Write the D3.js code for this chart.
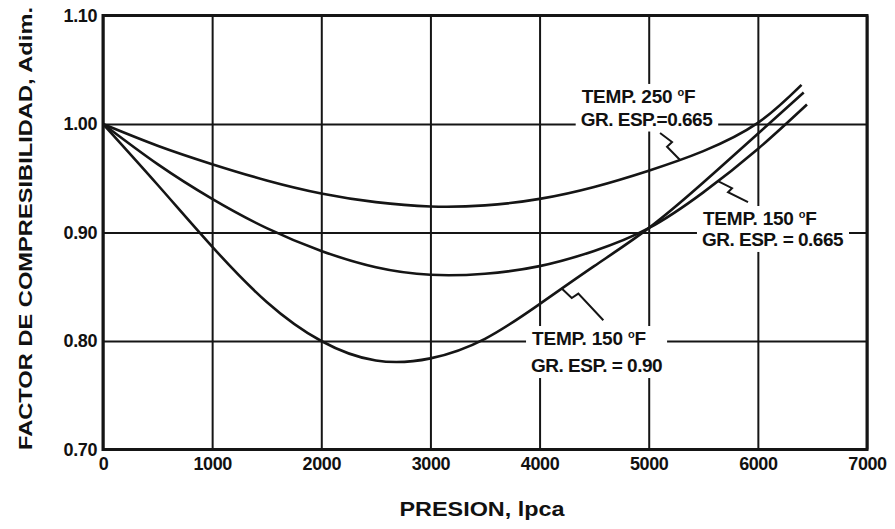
<!DOCTYPE html>
<html>
<head>
<meta charset="utf-8">
<script src="https://cdn.jsdelivr.net/npm/d3@7"></script>
<style>
  html, body { margin: 0; padding: 0; background: #fff; }
  svg { display: block; }
  text { font-family: "Liberation Sans", Arial, sans-serif; font-weight: bold; fill: #111; }
</style>
</head>
<body>
<svg id="chart" width="895" height="529"></svg>
<script>
// Gas compressibility factor vs. pressure
const xTicks = [0, 1000, 2000, 3000, 4000, 5000, 6000, 7000];
const yTicks = [0.70, 0.80, 0.90, 1.00, 1.10];

// TEMP. 250 °F, GR. ESP. = 0.665
const pressure250 = [0, 500, 1000, 1500, 2000, 2500, 3000, 3500, 4000, 4500, 5000, 5500, 6000, 6400];
const z250        = [1.000, 0.980, 0.963, 0.948, 0.936, 0.928, 0.924, 0.925, 0.931, 0.942, 0.957, 0.975, 1.001, 1.036];

// TEMP. 150 °F, GR. ESP. = 0.665
const pressure150a = [0, 500, 1000, 1500, 2000, 2500, 3000, 3500, 4000, 4500, 5000, 5500, 6000, 6450];
const z150a        = [1.000, 0.963, 0.931, 0.904, 0.883, 0.868, 0.861, 0.862, 0.869, 0.883, 0.904, 0.937, 0.977, 1.018];

// TEMP. 150 °F, GR. ESP. = 0.90
const pressure150b = [0, 500, 1000, 1500, 2000, 2500, 3000, 3500, 4000, 4500, 5000, 5500, 6000, 6420];
const z150b        = [1.000, 0.944, 0.887, 0.836, 0.800, 0.782, 0.784, 0.802, 0.834, 0.869, 0.904, 0.946, 0.991, 1.029];

const seriesNames = ["TEMP. 250", "TEMP. 150 / 0.665", "TEMP. 150 / 0.90"];

const svg = d3.select("#chart");
const margin = { left: 103, right: 28, top: 15.5, bottom: 79.5 };
const W = 895, H = 529;
const innerW = W - margin.left - margin.right;
const innerH = H - margin.top - margin.bottom;

const x = d3.scaleLinear().domain([0, 7000]).range([margin.left, margin.left + innerW]);
const y = d3.scaleLinear().domain([0.70, 1.10]).range([margin.top + innerH, margin.top]);

const ink = "#151515";

// grid + tick labels
const gx = svg.append("g")
  .attr("transform", `translate(0,${margin.top + innerH})`)
  .call(d3.axisBottom(x).tickValues(xTicks).tickFormat(d3.format("d"))
        .tickSize(-innerH).tickPadding(8));
const gy = svg.append("g")
  .attr("transform", `translate(${margin.left},0)`)
  .call(d3.axisLeft(y).tickValues(yTicks).tickFormat(d3.format(".2f"))
        .tickSize(-innerW).tickPadding(6));

[gx, gy].forEach(g => {
  g.select(".domain").remove();
  g.selectAll(".tick line").attr("stroke", ink).attr("stroke-width", 2);
  g.selectAll(".tick text")
    .attr("fill", ink)
    .style("font-family", '"Liberation Sans", Arial, sans-serif')
    .style("font-weight", "bold")
    .style("font-size", "18px")
    .style("letter-spacing", "-0.4px");
});

// plot frame
svg.append("rect")
  .attr("x", x(0)).attr("y", y(1.10))
  .attr("width", x(7000) - x(0)).attr("height", y(0.70) - y(1.10))
  .attr("fill", "none").attr("stroke", ink).attr("stroke-width", 3);

// curves
const line = d3.line()
  .x(d => x(d[0])).y(d => y(d[1]))
  .curve(d3.curveNatural);

const series = [
  d3.zip(pressure250, z250),
  d3.zip(pressure150a, z150a),
  d3.zip(pressure150b, z150b)
];

const paths = series.map((s, i) =>
  svg.append("path")
    .datum(s)
    .attr("class", "curve")
    .attr("data-name", seriesNames[i])
    .attr("d", line)
    .attr("fill", "none")
    .attr("stroke", ink)
    .attr("stroke-width", 2.6)
    .node()
);

// find the point on a path at a given pressure
function pointAt(pathNode, p) {
  const tx = x(p);
  let lo = 0, hi = pathNode.getTotalLength();
  for (let k = 0; k < 40; k++) {
    const mid = (lo + hi) / 2;
    if (pathNode.getPointAtLength(mid).x < tx) lo = mid; else hi = mid;
  }
  return pathNode.getPointAtLength((lo + hi) / 2);
}

// annotations: two-line labels with white backing and zigzag leaders
const labels = [
  { head: "TEMP. 250 ", sub: "GR. ESP.=0.665", at: [4386, 1.0194], lead: 0.9986,
    curve: 0, from: 5287, jog: [[-13, -13.3], [5, -4.7], [-12, -9]] },
  { head: "TEMP. 150 ", sub: "GR. ESP. = 0.665", at: [5497, 0.9069], lead: 0.8876,
    curve: 1, from: 5635, jog: [[14, 7], [-4, 4], [20, 10]] },
  { head: "TEMP. 150 ", sub: "GR. ESP. = 0.90", at: [3931, 0.7963], lead: 0.7714,
    curve: 2, from: 4203, jog: [[10, 9.4], [6.6, -4.4], [25, 26.7]] }
];

labels.forEach(lb => {
  const g = svg.append("g");
  const bg = g.append("rect").attr("fill", "#fff");
  const t1 = g.append("text")
    .attr("x", x(lb.at[0])).attr("y", y(lb.at[1]))
    .style("font-size", "19px").style("letter-spacing", "-0.2px");
  t1.append("tspan").text(lb.head);
  t1.append("tspan").text("o").attr("dy", -7).style("font-size", "11px");
  t1.append("tspan").text("F").attr("dy", 7);
  g.append("text")
    .attr("x", x(lb.at[0]) - 1).attr("y", y(lb.lead))
    .style("font-size", "19px").style("letter-spacing", "-0.5px")
    .text(lb.sub);
  const b = g.node().getBBox();
  bg.attr("x", b.x - 5).attr("y", b.y - 2).attr("width", b.width + 10).attr("height", b.height + 4);

  const start = pointAt(paths[lb.curve], lb.from);
  const pts = [[start.x, start.y]];
  lb.jog.forEach(([dx, dy]) => {
    const last = pts[pts.length - 1];
    pts.push([last[0] + dx, last[1] + dy]);
  });
  svg.append("path")
    .attr("d", d3.line()(pts))
    .attr("fill", "none").attr("stroke", ink).attr("stroke-width", 2)
    .attr("stroke-linejoin", "miter");
});

// axis titles
svg.append("text")
  .attr("x", (x(0) + x(7000)) / 2 - 3).attr("y", 516)
  .attr("text-anchor", "middle")
  .attr("textLength", 165)
  .attr("lengthAdjust", "spacingAndGlyphs")
  .style("font-size", "20px")
  .text("PRESION, lpca");

svg.append("text")
  .attr("transform", `translate(32,${(7 + 450) / 2}) rotate(-90)`)
  .attr("text-anchor", "middle")
  .attr("textLength", 443)
  .attr("lengthAdjust", "spacingAndGlyphs")
  .style("font-size", "19px")
  .text("FACTOR DE COMPRESIBILIDAD, Adim.");
</script>
</body>
</html>
